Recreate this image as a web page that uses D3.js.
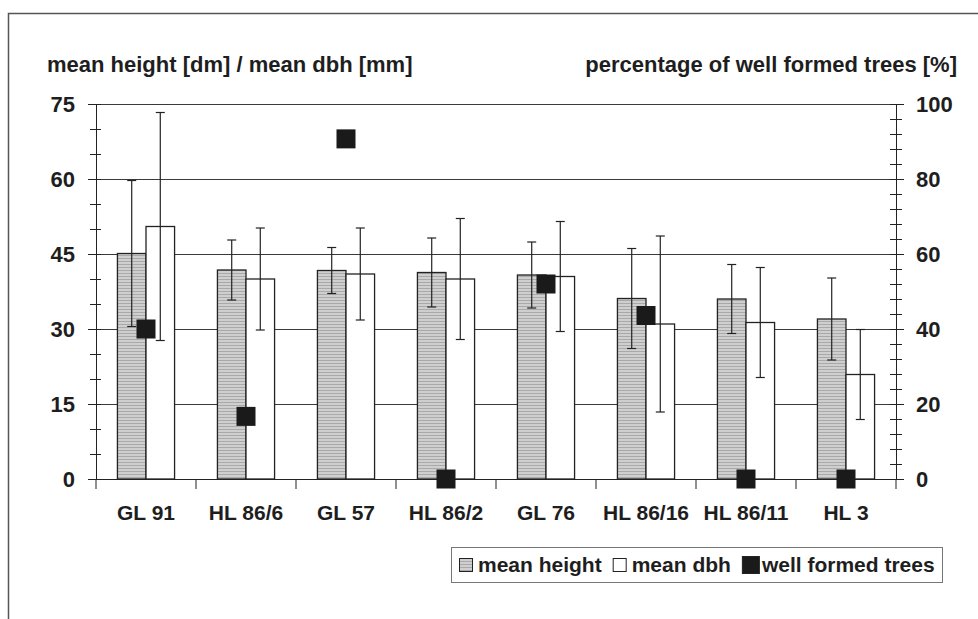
<!DOCTYPE html>
<meta charset="utf-8">
<style>
    body { margin: 0; background: #fff; }
    svg text { font-family: "Liberation Sans", Arial, sans-serif; font-weight: bold; fill: #1e1e1e; }
</style>
<body>
<script src="https://cdn.jsdelivr.net/npm/d3@7"></script>
<script>
    /* chart data */
    var categories = ["GL 91", "HL 86/6", "GL 57", "HL 86/2", "GL 76", "HL 86/16", "HL 86/11", "HL 3"];
    var meanHeight = [45.1, 41.8, 41.7, 41.3, 40.8, 36.1, 36.0, 32.0];
    var heightSd   = [14.6, 6.0, 4.6, 6.9, 6.6, 10.0, 6.9, 8.2];
    var meanDbh    = [50.5, 40.0, 41.0, 40.0, 40.5, 31.0, 31.3, 20.9];
    var dbhSd      = [22.8, 10.2, 9.2, 12.1, 11.0, 17.6, 11.0, 9.0];
    var wellFormed = [40, 16.7, 90.7, 0, 52, 43.6, 0, 0];

    var leftTicks = [0, 15, 30, 45, 60, 75];
    var rightTicks = [0, 20, 40, 60, 80, 100];
    var seriesNames = ["mean height", "mean dbh", "well formed trees"];

    var w = 978, h = 619;
    var plotLeft = 96, plotRight = 896, plotTop = 104, plotBottom = 479;

    var svg = d3.select("body").append("svg")
        .attr("width", w)
        .attr("height", h);

    /* striped grey fill for the height bars */
    var pat = svg.append("defs").append("pattern")
        .attr("id", "hfill")
        .attr("patternUnits", "userSpaceOnUse")
        .attr("width", 4).attr("height", 3);
    pat.append("rect").attr("width", 4).attr("height", 3).attr("fill", "#cfcfcf");
    pat.append("rect").attr("width", 4).attr("height", 1).attr("fill", "#a9a9a9");

    /* outer frame (top + left only visible) */
    svg.append("path")
        .attr("d", "M8.5," + h + "V13.5H" + w)
        .attr("fill", "none")
        .attr("stroke", "#555")
        .attr("stroke-width", 1.5);

    /* scales */
    var x = d3.scaleBand().domain(categories).range([plotLeft, plotRight]);
    var xSub = d3.scaleBand().domain(["height", "dbh"]).range([0, x.bandwidth()]).paddingOuter(0.75);
    var yLeft = d3.scaleLinear().domain([0, 75]).range([plotBottom, plotTop]);
    var yRight = d3.scaleLinear().domain([0, 100]).range([plotBottom, plotTop]);

    /* gridlines */
    svg.append("g").selectAll("line")
        .data(leftTicks.slice(1))
        .enter().append("line")
        .attr("x1", plotLeft).attr("x2", plotRight)
        .attr("y1", function (d) { return yLeft(d) + 0.5; })
        .attr("y2", function (d) { return yLeft(d) + 0.5; })
        .attr("stroke", "#3a3a3a");

    /* left axis: major with labels, minor crossing */
    var leftAxis = svg.append("g")
        .attr("transform", "translate(" + plotLeft + ",0)")
        .call(d3.axisLeft(yLeft).tickValues(leftTicks).tickSize(8).tickPadding(13));
    svg.append("g")
        .attr("transform", "translate(" + plotLeft + ",0)")
        .call(d3.axisLeft(yLeft).tickValues(d3.range(0, 76, 5)).tickSize(6).tickFormat(""));
    svg.append("g")
        .attr("transform", "translate(" + plotLeft + ",0)")
        .call(d3.axisRight(yLeft).tickValues(d3.range(5, 76, 5)).tickSize(5).tickFormat(""))
        .select(".domain").remove();

    /* right axis */
    svg.append("g")
        .attr("transform", "translate(" + plotRight + ",0)")
        .call(d3.axisRight(yRight).tickValues(rightTicks).tickSize(8).tickPadding(12));
    svg.append("g")
        .attr("transform", "translate(" + plotRight + ",0)")
        .call(d3.axisRight(yRight).tickValues(d3.range(0, 101, 4)).tickSize(6).tickFormat(""));
    svg.append("g")
        .attr("transform", "translate(" + plotRight + ",0)")
        .call(d3.axisLeft(yRight).tickValues(d3.range(4, 101, 4)).tickSize(6).tickFormat(""))
        .select(".domain").remove();

    svg.selectAll(".tick text").style("font-size", "22px");
    svg.selectAll(".domain").attr("stroke", "#222");
    svg.selectAll(".tick line").attr("stroke", "#222");

    /* height bars */
    svg.append("g").selectAll("rect")
        .data(categories)
        .enter().append("rect")
        .attr("x", function (d) { return x(d) + xSub("height"); })
        .attr("y", function (d, i) { return yLeft(meanHeight[i]); })
        .attr("width", xSub.bandwidth())
        .attr("height", function (d, i) { return yLeft(0) - yLeft(meanHeight[i]); })
        .attr("fill", "url(#hfill)")
        .attr("stroke", "#222")
        .attr("stroke-width", 1.3);

    /* dbh bars */
    svg.append("g").selectAll("rect")
        .data(categories)
        .enter().append("rect")
        .attr("x", function (d) { return x(d) + xSub("dbh"); })
        .attr("y", function (d, i) { return yLeft(meanDbh[i]); })
        .attr("width", xSub.bandwidth())
        .attr("height", function (d, i) { return yLeft(0) - yLeft(meanDbh[i]); })
        .attr("fill", "#fff")
        .attr("stroke", "#222")
        .attr("stroke-width", 1.3);

    /* error bars */
    function errorBars(key, means, sds) {
        var g = svg.append("g").attr("stroke", "#222").attr("stroke-width", 1.2);
        categories.forEach(function (c, i) {
            var cx = x(c) + xSub(key) + xSub.bandwidth() / 2;
            var top = yLeft(means[i] + sds[i]), bot = yLeft(means[i] - sds[i]);
            g.append("line").attr("x1", cx).attr("x2", cx).attr("y1", top).attr("y2", bot);
            g.append("line").attr("x1", cx - 4.5).attr("x2", cx + 4.5).attr("y1", top).attr("y2", top);
            g.append("line").attr("x1", cx - 4.5).attr("x2", cx + 4.5).attr("y1", bot).attr("y2", bot);
        });
    }
    errorBars("height", meanHeight, heightSd);
    errorBars("dbh", meanDbh, dbhSd);

    /* x axis */
    svg.append("line")
        .attr("x1", plotLeft).attr("x2", plotRight)
        .attr("y1", plotBottom + 0.5).attr("y2", plotBottom + 0.5)
        .attr("stroke", "#222");
    svg.append("g").selectAll("line")
        .data(categories.concat(["end"]))
        .enter().append("line")
        .attr("x1", function (d) { return d === "end" ? plotRight : x(d); })
        .attr("x2", function (d) { return d === "end" ? plotRight : x(d); })
        .attr("y1", plotBottom)
        .attr("y2", plotBottom + 10)
        .attr("stroke", "#222");
    var xAxis = svg.append("g")
        .attr("transform", "translate(0," + plotBottom + ")")
        .call(d3.axisBottom(x).tickSize(0).tickPadding(26));
    xAxis.select(".domain").remove();
    xAxis.selectAll("text").style("font-size", "21px");

    /* well formed trees markers */
    svg.append("g").selectAll("rect")
        .data(categories)
        .enter().append("rect")
        .attr("x", function (d) { return x(d) + x.bandwidth() / 2 - 9.5; })
        .attr("y", function (d, i) { return yRight(wellFormed[i]) - 9.5; })
        .attr("width", 19)
        .attr("height", 19)
        .attr("fill", "#1a1a1a");

    /* axis titles */
    svg.append("text")
        .attr("x", 47).attr("y", 72)
        .style("font-size", "22px")
        .text("mean height [dm] / mean dbh [mm]");
    svg.append("text")
        .attr("x", 957).attr("y", 72)
        .attr("text-anchor", "end")
        .style("font-size", "22px")
        .text("percentage of well formed trees [%]");

    /* legend */
    var legend = svg.append("g");
    legend.append("rect")
        .attr("x", 451.5).attr("y", 547.5)
        .attr("width", 491).attr("height", 35)
        .attr("fill", "#fff")
        .attr("stroke", "#777");
    var lx = 459;
    seriesNames.forEach(function (name, i) {
        var size = i === 2 ? 17 : 13;
        legend.append("rect")
            .attr("x", lx + 0.5)
            .attr("y", 565 - size / 2)
            .attr("width", size).attr("height", size)
            .attr("fill", i === 0 ? "url(#hfill)" : (i === 1 ? "#fff" : "#1a1a1a"))
            .attr("stroke", "#222");
        var t = legend.append("text")
            .attr("x", lx + size + (i === 2 ? 3 : 6))
            .attr("y", 572)
            .style("font-size", "21px")
            .text(name);
        lx = lx + size + (i === 2 ? 3 : 6) + t.node().getComputedTextLength() + 11;
    });
</script>
</body>
